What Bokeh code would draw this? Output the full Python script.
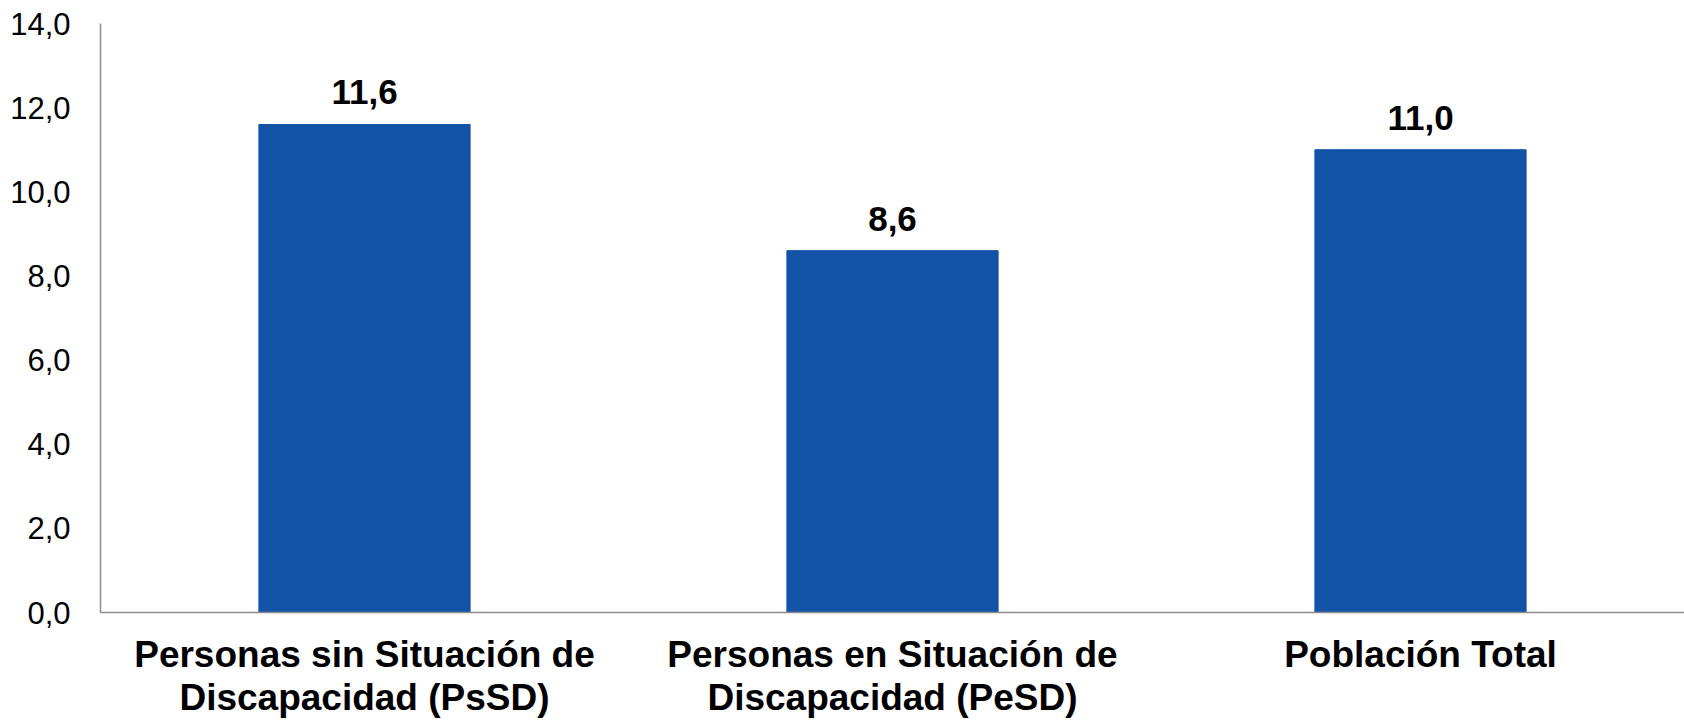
from bokeh.plotting import figure
from bokeh.models import Range1d, FixedTicker
from bokeh.core.properties import value
from bokeh.embed import file_html
from bokeh.resources import INLINE

categories = ["Personas sin Situación de\nDiscapacidad (PsSD)",
              "Personas en Situación de\nDiscapacidad (PeSD)",
              "Población Total"]
values = [11.6, 8.6, 11.0]
value_labels = ["11,6", "8,6", "11,0"]
y_ticks = [0, 2, 4, 6, 8, 10, 12, 14]
y_tick_labels = ["0,0", "2,0", "4,0", "6,0", "8,0", "10,0", "12,0", "14,0"]

xs = [i + 0.5 for i in range(len(categories))]

W, H = 1684, 721
p = figure(width=W, height=H, output_backend="svg", toolbar_location=None,
           x_range=Range1d(0, len(categories)), y_range=Range1d(0, 14),
           min_border_left=100, min_border_right=0, min_border_top=23,
           min_border_bottom=109)
p.outline_line_color = None
p.xgrid.visible = False
p.ygrid.visible = False

p.vbar(x=xs, top=values, width=0.4, color="#1353A5")
p.text(x=xs, y=values, text=value_labels, y_offset=-20,
       text_align="center", text_baseline="bottom",
       text_font=value("Liberation Sans"), text_font_style="bold",
       text_font_size="35px", text_color="#000000")

p.yaxis.ticker = FixedTicker(ticks=y_ticks)
p.yaxis.major_label_overrides = {t: l for t, l in zip(y_ticks, y_tick_labels)}
p.yaxis.major_label_text_font = "Liberation Sans"
p.yaxis.major_label_text_font_size = "31px"
p.yaxis.major_label_text_color = "#000000"
p.yaxis.major_label_standoff = 24
p.yaxis.major_tick_line_color = None
p.yaxis.minor_tick_line_color = None
p.yaxis.axis_line_color = "#8c8c8c"
p.yaxis.axis_line_width = 1.5

p.xaxis.ticker = FixedTicker(ticks=xs)
p.xaxis.major_label_overrides = {x: c for x, c in zip(xs, categories)}
p.xaxis.major_label_text_font = "Liberation Sans"
p.xaxis.major_label_text_font_style = "bold"
p.xaxis.major_label_text_font_size = "37px"
p.xaxis.major_label_text_color = "#000000"
p.xaxis.major_label_text_line_height = 1.07
p.xaxis.major_label_standoff = 15
p.xaxis.major_tick_line_color = None
p.xaxis.minor_tick_line_color = None
p.xaxis.axis_line_color = "#8c8c8c"
p.xaxis.axis_line_width = 1.5

open("out.html", "w").write(file_html(p, INLINE))
